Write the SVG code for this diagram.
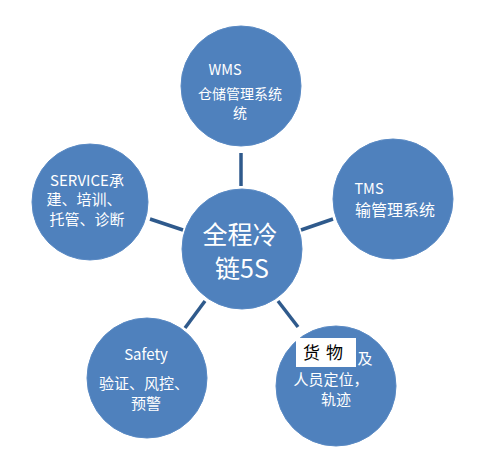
<svg xmlns="http://www.w3.org/2000/svg" width="481" height="449" viewBox="0 0 481 449">
<style>
.n{fill:#4F81BD;stroke:#5A8AC4;stroke-width:1}
.t{fill:#ffffff;font-family:"Noto Sans CJK SC","Noto Sans",sans-serif;font-size:14.5px;text-anchor:middle}
.c{stroke:#2F5A8C;stroke-width:3.5;fill:none}
</style>
<rect width="481" height="449" fill="#ffffff"/>
<g id="connectors">
<line class="c" x1="241" y1="153" x2="241" y2="186"/>
<line class="c" x1="150" y1="219" x2="183" y2="230"/>
<line class="c" x1="301" y1="230" x2="333" y2="219"/>
<line class="c" x1="205" y1="301" x2="185" y2="328"/>
<line class="c" x1="278" y1="301" x2="298" y2="327"/>
</g>
<g id="center">
<circle class="n" cx="242" cy="249" r="60"/>
<text class="t" x="240" y="244" style="font-size:25px">全程冷</text>
<text class="t" x="242" y="278" style="font-size:25px">链5S</text>
</g>
<g id="wms">
<circle class="n" cx="241" cy="86" r="60"/>
<text class="t" x="225" y="75">WMS</text>
<text class="t" x="240" y="99" style="font-size:14px">仓储管理系统</text>
<text class="t" x="240" y="118" style="font-size:14px">统</text>
</g>
<g id="tms">
<circle class="n" cx="393" cy="199" r="60"/>
<text class="t" x="369" y="194">TMS</text>
<text class="t" x="395" y="216" style="font-size:16px">输管理系统</text>
</g>
<g id="service">
<circle class="n" cx="90" cy="202" r="58"/>
<text class="t" x="87" y="186" style="font-size:15px">SERVICE承</text>
<text class="t" x="84" y="205" style="font-size:15px">建、培训、</text>
<text class="t" x="87" y="225" style="font-size:15px">托管、诊断</text>
</g>
<g id="safety">
<circle class="n" cx="147" cy="378" r="60"/>
<text class="t" x="146" y="360" style="font-size:15px">Safety</text>
<text class="t" x="144" y="389" style="font-size:15px">验证、风控、</text>
<text class="t" x="146" y="409" style="font-size:15px">预警</text>
</g>
<g id="goods">
<circle class="n" cx="336" cy="386" r="60"/>
<rect x="296" y="338" width="60" height="29" fill="#ffffff"/>
<text x="326" y="359" style="font-family:'Noto Sans CJK SC',sans-serif;font-size:17px;text-anchor:middle;fill:#000000;letter-spacing:6px">货物</text>
<text class="t" x="365" y="364" style="font-size:15px">及</text>
<text class="t" x="331" y="385" style="font-size:15px">人员定位，</text>
<text class="t" x="336" y="405" style="font-size:15px">轨迹</text>
</g>
</svg>
